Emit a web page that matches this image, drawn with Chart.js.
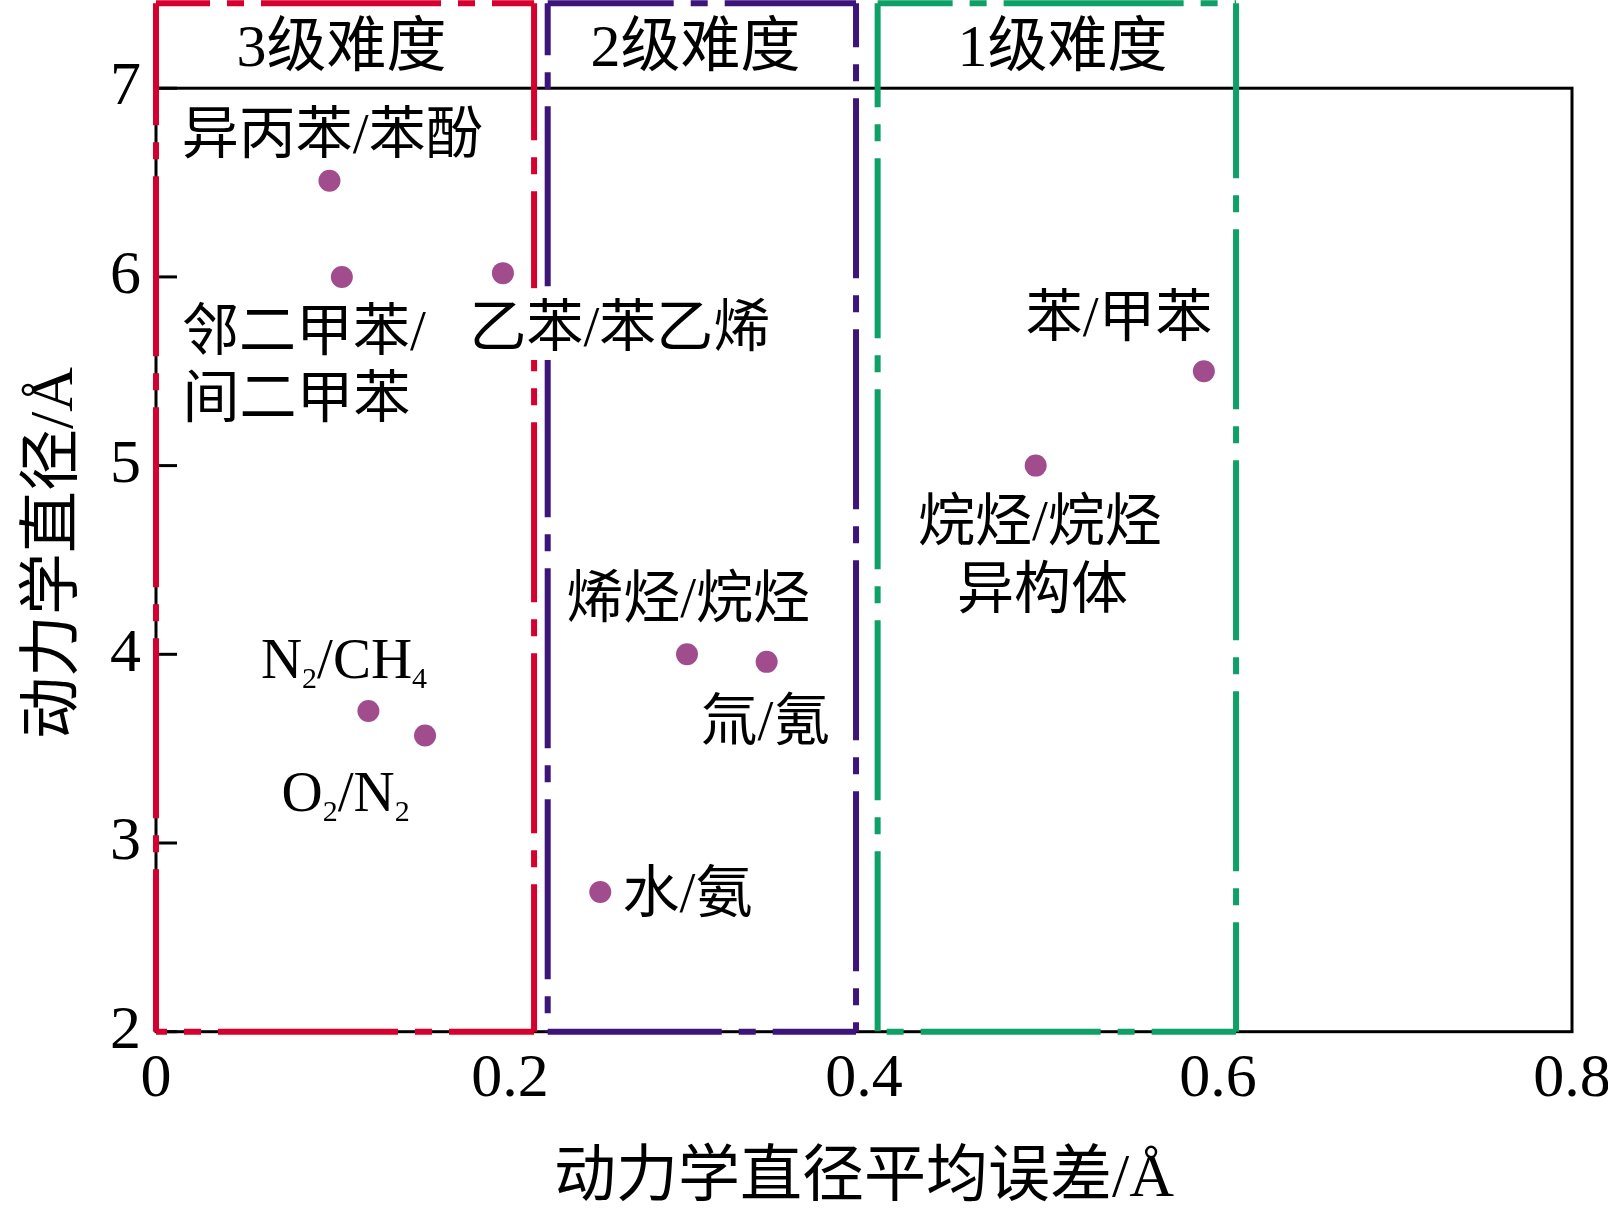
<!DOCTYPE html>
<html><head><meta charset="utf-8">
<script src="https://cdn.jsdelivr.net/npm/chart.js@4.4.0/dist/chart.umd.min.js"></script>
<style>html,body{margin:0;padding:0;background:#fff;} canvas{display:block;}</style>
</head><body>
<canvas id="c" width="1608" height="1214"></canvas>
<script>
// ---------- data ----------
const pointNames = ['异丙苯/苯酚','邻二甲苯/间二甲苯','乙苯/苯乙烯','N2/CH4','O2/N2','水/氨','烯烃/烷烃','氚/氪','烷烃/烷烃异构体','苯/甲苯'];
const pointX = [0.098, 0.105, 0.196, 0.120, 0.152, 0.251, 0.300, 0.345, 0.497, 0.592];
const pointY = [6.51, 6.00, 6.02, 3.70, 3.57, 2.74, 4.00, 3.96, 5.00, 5.50];

const labelText = ['异丙苯/苯酚','邻二甲苯/','间二甲苯','乙苯/苯乙烯','苯/甲苯','烷烃/烷烃','异构体','烯烃/烷烃','氚/氪','水/氨','N_2/CH_4','O_2/N_2'];
const labelX = [0.0996, 0.0836, 0.0794, 0.2621, 0.5441, 0.4994, 0.5008, 0.3006, 0.3443, 0.3003, 0.1062, 0.1071];
const labelY = [6.772, 5.729, 5.370, 5.750, 5.804, 4.718, 4.359, 4.315, 3.663, 2.750, 3.975, 3.270];

const levelText = ['3级难度','2级难度','1级难度'];
const levelX = [0.1048, 0.3048, 0.5121];
const levelY = [7.24, 7.24, 7.24];

const boxLeft = [0, 0.2213, 0.4077];
const boxRight = [0.2136, 0.3955, 0.6102];
const boxBottom = [2, 2, 2];
const boxTop = [7.45, 7.45, 7.45];

const xTicks = [0, 0.2, 0.4, 0.6, 0.8];
const xTickLabels = ['0','0.2','0.4','0.6','0.8'];
const yTicks = [2, 3, 4, 5, 6, 7];
const yTickLabels = ['2','3','4','5','6','7'];
const xTitle = '动力学直径平均误差/Å';
const yTitle = '动力学直径/Å';

// ---------- styles ----------
const FONT = '"Liberation Serif", "Noto Sans CJK SC", serif';
const boxColors = ['#d5002d', '#3d1479', '#0fa067'];
const dashPattern = [180, 17, 17, 17];
// dash phase per side: left, right, top, bottom
const dashOffsets = [[58, 43, 126, 169], [128, 136, 54, 6], [76, 5, 105, 188]];
const pointColor = '#a14c8d';

const datasets = [];
boxLeft.forEach((L, i) => {
  const R = boxRight[i], B = boxBottom[i], T = boxTop[i];
  const sides = [
    [{x: L, y: T}, {x: L, y: B}],
    [{x: R, y: T}, {x: R, y: B}],
    [{x: L, y: T}, {x: R, y: T}],
    [{x: L, y: B}, {x: R, y: B}]
  ];
  sides.forEach((d, j) => datasets.push({
    data: d, showLine: true, pointRadius: 0, pointHoverRadius: 0,
    borderColor: boxColors[i], borderWidth: 6, borderDash: dashPattern,
    borderDashOffset: dashOffsets[i][j], borderCapStyle: 'butt',
    clip: false, fill: false, order: 2
  }));
});
datasets.push({
  data: pointX.map((x, i) => ({x: x, y: pointY[i]})),
  showLine: false, pointRadius: 11, pointHoverRadius: 11,
  pointBackgroundColor: pointColor, pointBorderWidth: 0, order: 0
});

const framePlugin = {
  id: 'frame',
  beforeDatasetsDraw(chart) {
    const {ctx, scales: {x, y}} = chart;
    const x0 = x.getPixelForValue(xTicks[0]), x1 = x.getPixelForValue(xTicks[xTicks.length - 1]);
    const y0 = y.getPixelForValue(yTicks[0]), y1 = y.getPixelForValue(yTicks[yTicks.length - 1]);
    ctx.save();
    ctx.strokeStyle = '#000';
    ctx.lineWidth = 3;
    ctx.strokeRect(x0, y1, x1 - x0, y0 - y1);
    yTicks.forEach(v => {
      const p = y.getPixelForValue(v);
      ctx.beginPath(); ctx.moveTo(x0, p); ctx.lineTo(x0 + 21, p); ctx.stroke();
    });
    // axis titles
    ctx.fillStyle = '#000';
    ctx.font = '62px ' + FONT;
    ctx.textAlign = 'center';
    ctx.textBaseline = 'middle';
    ctx.fillText(xTitle, (x0 + x1) / 2, 1180);
    ctx.save();
    ctx.translate(56, (y0 + y1) / 2 - 7);
    ctx.rotate(-Math.PI / 2);
    ctx.fillText(yTitle, 0, 0);
    ctx.restore();
    ctx.restore();
  }
};

function parseRich(t) {
  const segs = [];
  for (let i = 0; i < t.length; i++) {
    if (t[i] === '_' && i + 1 < t.length) { segs.push({t: t[i + 1], sub: true}); i++; }
    else segs.push({t: t[i], sub: false});
  }
  return segs;
}
function drawRich(ctx, text, cx, cy, size, bg) {
  const segs = parseRich(text);
  const subSize = Math.round(size * 0.52);
  const isCJK = /[\u3400-\u9fff]/.test(text);
  let w = 0;
  segs.forEach(s => { ctx.font = (s.sub ? subSize : size) + 'px ' + FONT; s.w = ctx.measureText(s.t).width; w += s.w; });
  const base = cy + (isCJK ? 0.38 : 0.33) * size;
  let x = cx - w / 2;
  if (bg) {
    ctx.fillStyle = '#fff';
    ctx.fillRect(x - 3, cy - 0.63 * size, w + 6, 1.26 * size);
  }
  ctx.fillStyle = '#000';
  ctx.textBaseline = 'alphabetic';
  ctx.textAlign = 'left';
  segs.forEach(s => {
    ctx.font = (s.sub ? subSize : size) + 'px ' + FONT;
    ctx.fillText(s.t, x, s.sub ? base + 0.17 * size : base);
    x += s.w;
  });
}

const labelPlugin = {
  id: 'labels',
  afterDatasetsDraw(chart) {
    const {ctx, scales: {x, y}} = chart;
    ctx.save();
    labelText.forEach((t, i) => drawRich(ctx, t, x.getPixelForValue(labelX[i]), y.getPixelForValue(labelY[i]), 57, true));
    levelText.forEach((t, i) => drawRich(ctx, t, x.getPixelForValue(levelX[i]), y.getPixelForValue(levelY[i]), 60, false));
    ctx.restore();
  }
};

new Chart(document.getElementById('c'), {
  type: 'scatter',
  data: {datasets},
  options: {
    responsive: false, animation: false, devicePixelRatio: 1,
    layout: {autoPadding: false, padding: {top: 3.3, right: 36, bottom: 0, left: 0}},
    plugins: {legend: {display: false}, tooltip: {enabled: false}},
    events: [],
    scales: {
      x: {
        type: 'linear', position: 'bottom', min: xTicks[0], max: xTicks[xTicks.length - 1],
        grid: {display: false, drawTicks: false}, border: {display: false},
        ticks: {font: {family: FONT, size: 62}, color: '#000', padding: 11, maxRotation: 0, autoSkip: false,
          callback: (v) => xTickLabels[xTicks.indexOf(v)]},
        afterBuildTicks: s => { s.ticks = xTicks.map(v => ({value: v})); },
        afterFit: s => { s.height = 182.3; s.paddingLeft = 0; s.paddingRight = 0; },
        title: {display: false}
      },
      y: {
        type: 'linear', position: 'left', min: yTicks[0], max: boxTop[0],
        grid: {display: false, drawTicks: false}, border: {display: false},
        ticks: {font: {family: FONT, size: 62}, color: '#000', padding: 15, autoSkip: false,
          callback: (v) => yTickLabels[yTicks.indexOf(v)]},
        afterBuildTicks: s => { s.ticks = yTicks.map(v => ({value: v})); },
        afterFit: s => { s.width = 156; s.paddingTop = 0; s.paddingBottom = 0; },
        title: {display: false}
      }
    }
  },
  plugins: [framePlugin, labelPlugin]
});
</script>
</body></html>
